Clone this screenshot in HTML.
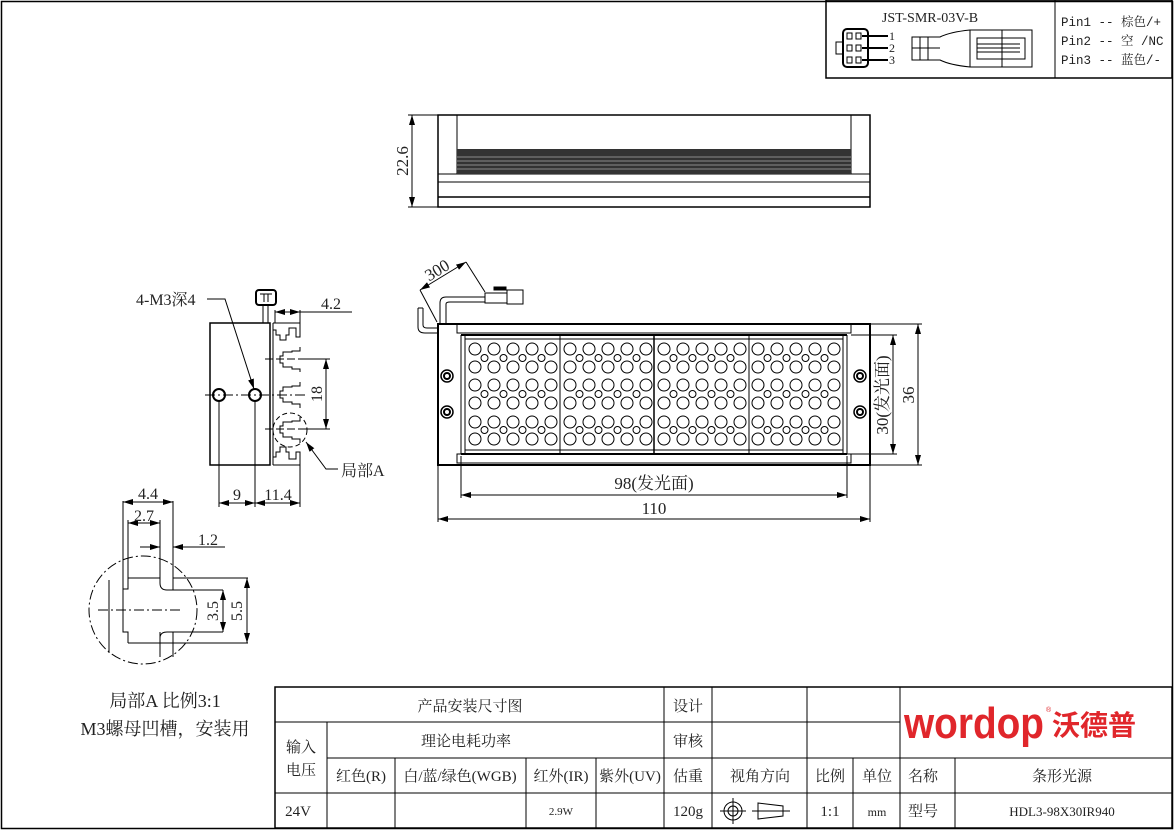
<!DOCTYPE html>
<html><head><meta charset="utf-8"><style>
html,body{margin:0;padding:0;background:#fff}
svg{display:block}
text{font-family:"Liberation Serif","Noto Serif CJK SC",serif;fill:#222}
</style></head><body>
<svg width="1174" height="832" viewBox="0 0 1174 832" xmlns="http://www.w3.org/2000/svg">
<defs>
<marker id="a" viewBox="0 0 10 6" refX="10" refY="3" markerWidth="10" markerHeight="6" orient="auto-start-reverse" markerUnits="userSpaceOnUse"><path d="M0,0 L10,3 L0,6z" fill="#000"/></marker>
<g id="row" stroke="#000" fill="none">
<circle cx="475" cy="0" r="6"/><circle cx="494" cy="0" r="6"/><circle cx="513" cy="0" r="6"/><circle cx="532" cy="0" r="6"/><circle cx="551" cy="0" r="6"/>
</g>
<g id="sm" stroke="#000" fill="none"><circle cx="484.5" cy="358" r="3.5"/><circle cx="503.5" cy="358" r="3.5"/><circle cx="522.5" cy="358" r="3.5"/><circle cx="541.5" cy="358" r="3.5"/></g>
<g id="grid">
<use href="#row" y="349"/><use href="#row" y="367"/><use href="#row" y="385"/><use href="#row" y="403"/><use href="#row" y="422"/><use href="#row" y="439"/>
<use href="#sm"/><use href="#sm" y="36"/><use href="#sm" y="72"/>
</g>
</defs>
<g stroke="#000" fill="none" stroke-width="1">
<rect x="1.5" y="1.5" width="1171" height="827" stroke-width="1.5"/>
<!-- top right connector box -->
<rect x="826" y="0" width="346" height="78" stroke-width="1.5"/>
<line x1="1055" y1="0" x2="1055" y2="78"/>
<rect x="843" y="29" width="25" height="38" rx="4" stroke-width="2"/>
<rect x="836" y="42" width="7" height="12"/>
<rect x="847" y="33" width="5" height="6"/><rect x="856" y="33" width="5" height="6"/>
<rect x="847" y="45" width="5" height="6"/><rect x="856" y="45" width="5" height="6"/>
<rect x="847" y="57" width="5" height="6"/><rect x="856" y="57" width="5" height="6"/>
<line x1="862" y1="36" x2="888" y2="36" stroke-width="2"/><line x1="862" y1="48" x2="888" y2="48" stroke-width="2"/><line x1="862" y1="60" x2="888" y2="60" stroke-width="2"/>
<path d="M912,37 H940 Q950,32 970,30 H1032 V67 H970 Q950,65 940,60 H912 Z"/>
<line x1="920" y1="37" x2="920" y2="60"/><line x1="928" y1="37" x2="928" y2="60"/><line x1="912" y1="48" x2="940" y2="48"/>
<line x1="970" y1="30" x2="970" y2="67"/><line x1="1002" y1="30" x2="1002" y2="67"/>
<rect x="977" y="38" width="48" height="21"/>
<line x1="977" y1="44" x2="1020" y2="44"/><line x1="977" y1="48" x2="1020" y2="48"/><line x1="977" y1="52" x2="1020" y2="52"/>
<!-- top view -->
<rect x="438" y="115" width="432" height="92" stroke-width="1.5"/>
<line x1="457" y1="115" x2="457" y2="174"/><line x1="851" y1="115" x2="851" y2="174"/>
<line x1="438" y1="174" x2="870" y2="174"/><line x1="438" y1="182" x2="870" y2="182"/>
<line x1="438" y1="197" x2="870" y2="197" stroke-width="1.5"/>
<rect x="457" y="149" width="394" height="25" fill="#333" stroke="none"/>
<g stroke="#aaa" stroke-width="0.7"><line x1="457" y1="157" x2="851" y2="157"/><line x1="457" y1="161" x2="851" y2="161"/><line x1="457" y1="165" x2="851" y2="165"/><line x1="457" y1="169" x2="851" y2="169"/></g>
<line x1="408" y1="115" x2="438" y2="115"/><line x1="408" y1="207" x2="438" y2="207"/>
<line x1="412" y1="115" x2="412" y2="207" marker-start="url(#a)" marker-end="url(#a)"/>
<!-- front view -->
<rect x="438" y="324" width="432" height="141" stroke-width="2"/>
<rect x="457" y="324" width="394" height="9"/>
<rect x="457" y="454" width="394" height="9"/>
<line x1="461" y1="335" x2="847" y2="335" stroke-width="2"/>
<line x1="461" y1="454" x2="847" y2="454" stroke-width="2"/>
<line x1="461" y1="335" x2="461" y2="454"/><line x1="465" y1="335" x2="465" y2="454"/>
<line x1="847" y1="335" x2="847" y2="454"/><line x1="843" y1="335" x2="843" y2="454"/>
<line x1="465" y1="339" x2="843" y2="339"/><line x1="465" y1="450" x2="843" y2="450"/>
<line x1="560" y1="335" x2="560" y2="454"/><line x1="654" y1="335" x2="654" y2="454" stroke-width="1.5"/><line x1="749" y1="335" x2="749" y2="454"/>
<use href="#grid"/><use href="#grid" x="95"/><use href="#grid" x="189"/><use href="#grid" x="283"/>
<circle cx="447" cy="376" r="6" stroke-width="1.5"/><circle cx="447" cy="376" r="3" stroke-width="2"/>
<circle cx="447" cy="412" r="6" stroke-width="1.5"/><circle cx="447" cy="412" r="3" stroke-width="2"/>
<circle cx="860" cy="376" r="6" stroke-width="1.5"/><circle cx="860" cy="376" r="3" stroke-width="2"/>
<circle cx="860" cy="412" r="6" stroke-width="1.5"/><circle cx="860" cy="412" r="3" stroke-width="2"/>
<!-- cable -->
<path d="M440,324 V303 Q440,297 446,297 H485"/>
<path d="M446,324 V304 Q446,302 450,302 H485"/>
<path d="M418,308 V327 Q418,333 425,333 H438"/><path d="M423,308 V325 Q423,328 427,328 H438"/><line x1="418" y1="308" x2="423" y2="308"/>
<rect x="485" y="293" width="22" height="10"/>
<rect x="507" y="290" width="16" height="14"/><rect x="494" y="287" width="12" height="3" fill="#000"/>
<line x1="420" y1="290" x2="437" y2="322"/><line x1="466" y1="262" x2="485" y2="292"/>
<line x1="420" y1="290" x2="466" y2="262" marker-start="url(#a)" marker-end="url(#a)"/>
<!-- front dims -->
<line x1="461" y1="456" x2="461" y2="498"/><line x1="847" y1="456" x2="847" y2="498"/>
<line x1="461" y1="495" x2="847" y2="495" marker-start="url(#a)" marker-end="url(#a)"/>
<line x1="438" y1="466" x2="438" y2="522"/><line x1="870" y1="466" x2="870" y2="522"/>
<line x1="438" y1="519" x2="870" y2="519" marker-start="url(#a)" marker-end="url(#a)"/>
<line x1="851" y1="335" x2="897" y2="335"/><line x1="851" y1="454" x2="897" y2="454"/>
<line x1="893" y1="335" x2="893" y2="454" marker-start="url(#a)" marker-end="url(#a)"/>
<line x1="870" y1="324" x2="922" y2="324"/><line x1="870" y1="465" x2="922" y2="465"/>
<line x1="918" y1="324" x2="918" y2="465" marker-start="url(#a)" marker-end="url(#a)"/>
<!-- side view -->
<rect x="210" y="323" width="60" height="142" stroke-width="1.5"/>
<line x1="273" y1="323" x2="273" y2="465"/>
<rect x="256" y="290" width="20" height="15" rx="3" stroke-width="2"/>
<line x1="260" y1="294" x2="272" y2="294"/><line x1="264" y1="294" x2="264" y2="302"/><line x1="268" y1="294" x2="268" y2="302"/>
<line x1="263" y1="305" x2="263" y2="323"/><line x1="268" y1="305" x2="268" y2="323"/>
<path d="M273,323 H300 V337 H296 V328 H289 V335 H286 V340 H280 V335 H276 V330 H273"/>
<path d="M300,347 V351 H292 V352 H283 V356 H280 V363 H283 V367 H292 V369 H300 V372"/>
<path d="M300,382 V386 H292 V387 H283 V391 H280 V398 H283 V402 H292 V404 H300 V408"/>
<path d="M300,417 V421 H292 V422 H283 V426 H280 V433 H283 V437 H292 V439 H300 V443"/>
<path d="M273,465 H300 V452 H296 V459 H289 V452 H286 V447 H280 V452 H276 V457 H273"/>
<circle cx="219" cy="395" r="6" stroke-width="2"/><circle cx="255" cy="395" r="6" stroke-width="2"/>
<line x1="205" y1="395" x2="305" y2="395" stroke-dasharray="10,3,2,3"/>
<line x1="265" y1="359" x2="300" y2="359" stroke-dasharray="8,3"/>
<line x1="265" y1="429" x2="300" y2="429" stroke-dasharray="8,3"/>
<circle cx="290" cy="430" r="17" stroke-dasharray="5,3"/>
<line x1="300" y1="359" x2="330" y2="359"/><line x1="300" y1="429" x2="330" y2="429"/>
<line x1="326" y1="359" x2="326" y2="429" marker-start="url(#a)" marker-end="url(#a)"/>
<line x1="275" y1="310" x2="275" y2="323"/><line x1="300" y1="310" x2="300" y2="323"/>
<line x1="275" y1="312" x2="300" y2="312" marker-start="url(#a)" marker-end="url(#a)"/>
<line x1="300" y1="312" x2="352" y2="312"/>
<line x1="219" y1="401" x2="219" y2="507"/><line x1="255" y1="401" x2="255" y2="507"/><line x1="300" y1="465" x2="300" y2="507"/>
<line x1="219" y1="503" x2="255" y2="503" marker-start="url(#a)" marker-end="url(#a)"/>
<line x1="255" y1="503" x2="300" y2="503" marker-start="url(#a)" marker-end="url(#a)"/>
<path d="M207,299 H225 L254,389" marker-end="url(#a)"/>
<path d="M338,469 H326 L306,442" marker-end="url(#a)"/>
<!-- detail A -->
<circle cx="143" cy="610" r="54" stroke-dasharray="10,3,2,3"/>
<path d="M128,578 H160 V583 Q160,590 167,590 H223"/>
<path d="M128,643 H160 V638 Q160,632 167,632 H223"/>
<path d="M128,578 V589 H123 V632 H128 V643"/>
<line x1="160" y1="643" x2="248" y2="643"/><line x1="173" y1="578" x2="248" y2="578"/>
<line x1="123" y1="501" x2="123" y2="589"/><line x1="173" y1="501" x2="173" y2="590"/>
<line x1="128" y1="520" x2="128" y2="578"/><line x1="160" y1="520" x2="160" y2="583"/>
<line x1="160" y1="632" x2="160" y2="657"/><line x1="173" y1="632" x2="173" y2="657"/>
<line x1="109" y1="580" x2="109" y2="653"/>
<line x1="98" y1="610" x2="180" y2="610" stroke-dasharray="10,3,2,3"/>
<line x1="123" y1="502" x2="173" y2="502" marker-start="url(#a)" marker-end="url(#a)"/>
<line x1="128" y1="523" x2="160" y2="523" marker-start="url(#a)" marker-end="url(#a)"/>
<line x1="140" y1="547" x2="160" y2="547" marker-end="url(#a)"/>
<line x1="173" y1="547" x2="225" y2="547"/><line x1="185" y1="547" x2="173" y2="547" marker-end="url(#a)"/>
<line x1="223" y1="590" x2="223" y2="632" marker-start="url(#a)" marker-end="url(#a)"/>
<line x1="247" y1="578" x2="247" y2="643" marker-start="url(#a)" marker-end="url(#a)"/>
<!-- table -->
<rect x="275" y="687" width="897" height="141" stroke-width="1.5"/>
<line x1="275" y1="722" x2="900" y2="722"/>
<line x1="327" y1="758" x2="1172" y2="758"/>
<line x1="275" y1="793" x2="1172" y2="793"/>
<line x1="327" y1="722" x2="327" y2="828"/>
<line x1="395" y1="758" x2="395" y2="828"/><line x1="526" y1="758" x2="526" y2="828"/><line x1="596" y1="758" x2="596" y2="828"/>
<line x1="664" y1="687" x2="664" y2="828"/><line x1="712" y1="687" x2="712" y2="828"/><line x1="807" y1="687" x2="807" y2="828"/>
<line x1="853" y1="758" x2="853" y2="828"/><line x1="900" y1="687" x2="900" y2="828"/><line x1="955" y1="758" x2="955" y2="828"/>
<circle cx="733" cy="811" r="9"/><circle cx="733" cy="811" r="5"/><line x1="733" y1="798" x2="733" y2="824"/><line x1="720" y1="811" x2="746" y2="811"/>
<path d="M758,803 L783,806 V816 L758,819 Z"/><line x1="752" y1="811" x2="790" y2="811"/>
</g>
<!-- text -->
<text x="930" y="22" font-size="14" text-anchor="middle">JST-SMR-03V-B</text>
<text x="889" y="40" font-size="12">1</text><text x="889" y="52" font-size="12">2</text><text x="889" y="64" font-size="12">3</text>
<text x="1061" y="26" font-size="12.5" style="font-family:'Liberation Mono','Noto Serif CJK SC',monospace">Pin1 -- 棕色/+</text>
<text x="1061" y="45" font-size="12.5" style="font-family:'Liberation Mono','Noto Serif CJK SC',monospace">Pin2 -- 空 /NC</text>
<text x="1061" y="64" font-size="12.5" style="font-family:'Liberation Mono','Noto Serif CJK SC',monospace">Pin3 -- 蓝色/-</text>
<text x="0" y="0" font-size="17" text-anchor="middle" transform="translate(408,161) rotate(-90)">22.6</text>
<text x="0" y="0" font-size="17" text-anchor="middle" transform="translate(440,275) rotate(-31)">300</text>
<text x="654" y="489" font-size="17" text-anchor="middle">98(发光面)</text>
<text x="654" y="514" font-size="17" text-anchor="middle">110</text>
<text x="0" y="0" font-size="17" text-anchor="middle" transform="translate(888,395) rotate(-90)">30(发光面)</text>
<text x="0" y="0" font-size="17" text-anchor="middle" transform="translate(914,395) rotate(-90)">36</text>
<text x="136" y="305" font-size="16">4-M3深4</text>
<text x="321" y="309" font-size="16">4.2</text>
<text x="0" y="0" font-size="16" text-anchor="middle" transform="translate(322,394) rotate(-90)">18</text>
<text x="341" y="476" font-size="16">局部A</text>
<text x="237" y="500" font-size="16" text-anchor="middle">9</text>
<text x="278" y="500" font-size="16" text-anchor="middle">11.4</text>
<text x="148" y="499" font-size="16" text-anchor="middle">4.4</text>
<text x="144" y="521" font-size="16" text-anchor="middle">2.7</text>
<text x="208" y="545" font-size="16" text-anchor="middle">1.2</text>
<text x="0" y="0" font-size="16" text-anchor="middle" transform="translate(218,611) rotate(-90)">3.5</text>
<text x="0" y="0" font-size="16" text-anchor="middle" transform="translate(242,611) rotate(-90)">5.5</text>
<text x="165" y="707" font-size="18" text-anchor="middle">局部A 比例3:1</text>
<text x="165" y="735" font-size="18" text-anchor="middle">M3螺母凹槽，安装用</text>
<g font-size="15" text-anchor="middle">
<text x="470" y="711">产品安装尺寸图</text><text x="688" y="711">设计</text>
<text x="301" y="752">输入</text><text x="301" y="775">电压</text>
<text x="466" y="746">理论电耗功率</text><text x="688" y="746">审核</text>
<text x="361" y="781">红色(R)</text><text x="460" y="781">白/蓝/绿色(WGB)</text><text x="561" y="781">红外(IR)</text><text x="630" y="781">紫外(UV)</text>
<text x="688" y="781">估重</text><text x="760" y="781">视角方向</text><text x="830" y="781">比例</text><text x="877" y="781">单位</text><text x="923" y="781">名称</text><text x="1062" y="781">条形光源</text>
<text x="298" y="816">24V</text><text x="561" y="815" font-size="11">2.9W</text><text x="688" y="816">120g</text><text x="830" y="816">1:1</text><text x="877" y="816" font-size="12">mm</text><text x="923" y="816">型号</text><text x="1062" y="816" font-size="13">HDL3-98X30IR940</text>
</g>
<text x="904" y="738" font-size="44" style="fill:#e0262b;font-family:'Liberation Sans',sans-serif;font-weight:bold" textLength="140" lengthAdjust="spacingAndGlyphs">wordop</text>
<text x="1046" y="712" font-size="7" style="fill:#e0262b;font-family:'Liberation Sans',sans-serif">®</text>
<text x="1052" y="735" font-size="28" style="fill:#e0262b;font-family:'Noto Sans CJK SC',sans-serif;font-weight:bold">沃德普</text>
</svg>
</body></html>
